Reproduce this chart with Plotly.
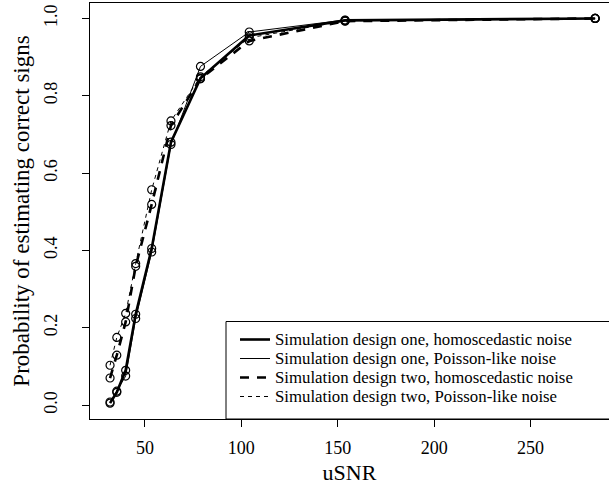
import plotly.graph_objects as go

usnr = [31.9, 35.4, 40.0, 45.2, 53.5, 63.5, 78.8, 104.1, 153.8, 283.5]
one_homo = [0.005, 0.033, 0.090, 0.235, 0.405, 0.680, 0.845, 0.956, 0.995, 1.000]
one_pois = [0.008, 0.036, 0.075, 0.224, 0.396, 0.674, 0.876, 0.965, 0.996, 1.000]
two_homo = [0.070, 0.129, 0.215, 0.359, 0.519, 0.723, 0.844, 0.942, 0.993, 1.000]
two_pois = [0.103, 0.175, 0.237, 0.366, 0.557, 0.735, 0.849, 0.950, 0.994, 1.000]

names = [
    "Simulation design one, homoscedastic noise",
    "Simulation design one, Poisson-like noise",
    "Simulation design two, homoscedastic noise",
    "Simulation design two, Poisson-like noise",
]
series = [one_homo, one_pois, two_homo, two_pois]
styles = [
    dict(width=2.6, dash="solid"),
    dict(width=1.0, dash="solid"),
    dict(width=2.6, dash="9px,8px"),
    dict(width=1.0, dash="4px,4px"),
]

FONT = "Liberation Serif"
fig = go.Figure()
for nm, ys, st in zip(names, series, styles):
    fig.add_trace(go.Scatter(x=usnr, y=ys, mode="lines", name=nm, showlegend=False,
                             line=dict(color="black", **st)))
for ys in series:
    fig.add_trace(go.Scatter(x=usnr, y=ys, mode="markers", showlegend=False,
                             marker=dict(symbol="circle-open", size=8,
                                         color="black", line=dict(width=1.2))))

L, R, T, B = 90, 0, 3, 72
W, H = 609, 491
pw, ph = W - L - R, H - T - B

def px(xp):
    return (xp - L) / pw

def py(yp):
    return (H - B - yp) / ph

# legend box
fig.add_shape(type="rect", xref="paper", yref="paper",
              x0=px(226), x1=1.05, y0=0, y1=py(321.5),
              line=dict(color="black", width=1), fillcolor="white", layer="above")
rows = [339.5, 358.5, 377.5, 396.5]
for nm, st, yr in zip(names, styles, rows):
    fig.add_shape(type="line", xref="paper", yref="paper",
                  x0=px(240), x1=px(270), y0=py(yr), y1=py(yr),
                  line=dict(color="black", **st), layer="above")
    fig.add_annotation(text=nm, xref="paper", yref="paper", x=px(273), y=py(yr),
                       xanchor="left", yanchor="middle", showarrow=False,
                       font=dict(family=FONT, size=16.8, color="black"))

fig.update_layout(
    width=W, height=H,
    margin=dict(l=L, r=R, t=T, b=B),
    plot_bgcolor="white", paper_bgcolor="white",
    font=dict(family=FONT, color="black", size=18),
    showlegend=False,
    xaxis=dict(range=[21.5, 290.7], tickvals=[50, 100, 150, 200, 250],
               showgrid=False, zeroline=False, showline=True, linecolor="black",
               linewidth=1, mirror=True, ticks="outside", ticklen=7,
               tickcolor="black", tickfont=dict(family=FONT, size=18),
               ticklabelstandoff=5,
               title=dict(text="uSNR", font=dict(family=FONT, size=22), standoff=8)),
    yaxis=dict(range=[-0.036, 1.04], tickvals=[0, 0.2, 0.4, 0.6, 0.8, 1.0],
               ticktext=["0.0", "0.2", "0.4", "0.6", "0.8", "1.0"],
               tickangle=-90, showgrid=False, zeroline=False, showline=True,
               linecolor="black", linewidth=1, mirror=False, ticks="outside",
               ticklen=7, tickcolor="black", tickfont=dict(family=FONT, size=18),
               ticklabelstandoff=18,
               title=dict(text="Probability of estimating correct signs",
                          font=dict(family=FONT, size=23), standoff=4)),
)
fig.write_html("out.html")
